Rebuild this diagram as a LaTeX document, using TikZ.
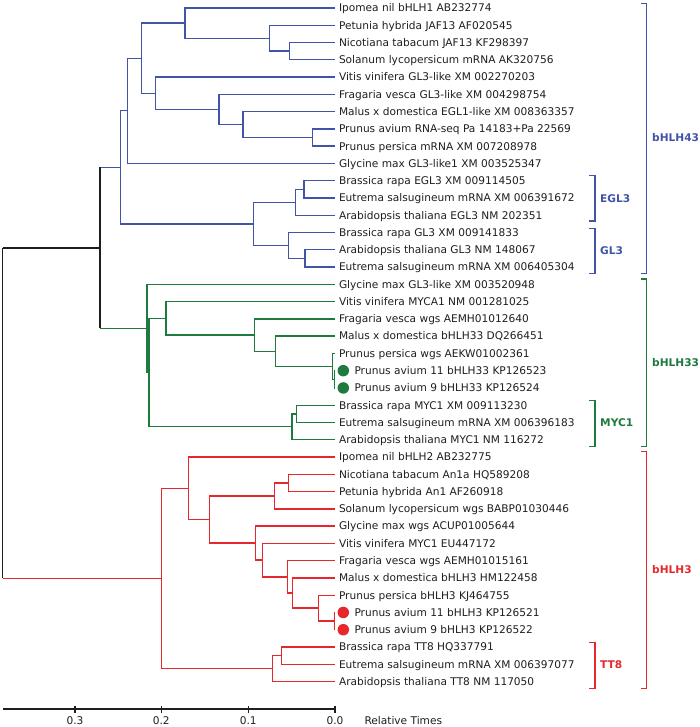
\documentclass[tikz,border=0pt]{standalone}
\usepackage{fontspec}
\setmainfont{DejaVu Sans}
\usetikzlibrary{calc}
\definecolor{cblue}{RGB}{66,84,168}
\definecolor{cgreen}{RGB}{30,122,62}
\definecolor{cred}{RGB}{230,40,45}
\definecolor{cblack}{RGB}{30,30,30}
\newcommand\inode[4]{\path let \p1=($(#3)!.5!(#4)$) in (#2pt,\y1) coordinate (#1);}
\newcommand\clade[4]{\draw[edge,#1] (#3) -| (#2) |- (#4);}
\begin{document}
\begin{tikzpicture}[x=1pt,y=-1pt,
  font=\fontsize{10.6}{12}\selectfont,
  edge/.style={line width=1.35pt},
  lbl/.style={anchor=west,inner sep=0pt,text height=7.7pt,text depth=0pt,text=cblack},
  grp/.style={anchor=west,inner sep=0pt,text height=7.7pt,text depth=0pt,font=\fontsize{10.6}{12}\selectfont\bfseries},
  dot/.style={circle,inner sep=0pt,minimum size=11.5pt,draw=none}]
\useasboundingbox (0,0) rectangle (700,727);
% leaves
\foreach \i in {0,...,39}{\coordinate (l\i) at (335,{8+17.27*\i});}
\foreach \i/\t in {0/Ipomea nil bHLH1 AB232774,1/Petunia hybrida JAF13 AF020545,2/Nicotiana tabacum JAF13 KF298397,3/Solanum lycopersicum mRNA AK320756,4/Vitis vinifera GL3-like XM 002270203,5/Fragaria vesca GL3-like XM 004298754,6/Malus x domestica EGL1-like XM 008363357,7/Prunus avium RNA-seq Pa 14183+Pa 22569,8/Prunus persica mRNA XM 007208978,9/Glycine max GL3-like1 XM 003525347,10/Brassica rapa EGL3 XM 009114505,11/Eutrema salsugineum mRNA XM 006391672,12/Arabidopsis thaliana EGL3 NM 202351,13/Brassica rapa GL3 XM 009141833,14/Arabidopsis thaliana GL3 NM 148067,15/Eutrema salsugineum mRNA XM 006405304,16/Glycine max GL3-like XM 003520948,17/Vitis vinifera MYCA1 NM 001281025,18/Fragaria vesca wgs AEMH01012640,19/Malus x domestica bHLH33 DQ266451,20/Prunus persica wgs AEKW01002361,23/Brassica rapa MYC1 XM 009113230,24/Eutrema salsugineum mRNA XM 006396183,25/Arabidopsis thaliana MYC1 NM 116272,26/Ipomea nil bHLH2 AB232775,27/Nicotiana tabacum An1a HQ589208,28/Petunia hybrida An1 AF260918,29/Solanum lycopersicum wgs BABP01030446,30/Glycine max wgs ACUP01005644,31/Vitis vinifera MYC1 EU447172,32/Fragaria vesca wgs AEMH01015161,33/Malus x domestica bHLH3 HM122458,34/Prunus persica bHLH3 KJ464755,37/Brassica rapa TT8 HQ337791,38/Eutrema salsugineum mRNA XM 006397077,39/Arabidopsis thaliana TT8 NM 117050}
  {\node[lbl] (t\i) at ($(l\i)+(3.8,0)$) {\t};}
\foreach \i/\t/\c in {21/Prunus avium 11 bHLH33 KP126523/cgreen,22/Prunus avium 9 bHLH33 KP126524/cgreen,35/Prunus avium 11 bHLH3 KP126521/cred,36/Prunus avium 9 bHLH3 KP126522/cred}
  {\node[dot,fill=\c] (d\i) at ($(l\i)+(8.3,0)$) {};
   \node[lbl] (t\i) at ($(l\i)+(19.3,0)$) {\t};}
% bHLH43 internal nodes
\inode{a1}{289.7}{l2}{l3}
\inode{a2}{269.3}{l1}{a1}
\inode{a3}{185}{l0}{a2}
\inode{a4}{312.7}{l7}{l8}
\inode{a5}{243}{l6}{a4}
\inode{a6}{219}{l5}{a5}
\inode{a7}{155.7}{l4}{a6}
\inode{a8}{141.7}{a3}{a7}
\inode{a9}{127.7}{a8}{l9}
\inode{a10}{304}{l10}{l11}
\inode{a11}{295.3}{a10}{l12}
\inode{a12}{305}{l14}{l15}
\inode{a13}{288.7}{l13}{a12}
\inode{a14}{253.3}{a11}{a13}
\inode{a15}{120.7}{a9}{a14}
% bHLH33
\inode{b1}{334.3}{l21}{l22}
\inode{b2}{332.3}{l20}{b1}
\inode{b3}{275.3}{l19}{b2}
\inode{b4}{254.7}{l18}{b3}
\inode{b5}{166}{l17}{b4}
\inode{b6}{296.7}{l23}{l24}
\inode{b7}{292}{b6}{l25}
\inode{b8}{149}{b5}{b7}
\inode{b9}{147}{l16}{b8}
\inode{t1}{100}{a15}{b9}
% bHLH3
\inode{c1}{288.7}{l27}{l28}
\inode{c2}{274.7}{c1}{l29}
\inode{c3}{334.3}{l35}{l36}
\inode{c4}{318.3}{l34}{c3}
\inode{c5}{292.3}{l33}{c4}
\inode{c6}{287.3}{l32}{c5}
\inode{c7}{262.7}{l31}{c6}
\inode{c8}{255.7}{l30}{c7}
\inode{c9}{209.3}{c2}{c8}
\inode{c10}{188.7}{l26}{c9}
\inode{c11}{281.7}{l37}{l38}
\inode{c12}{272.7}{c11}{l39}
\inode{c13}{161.3}{c10}{c12}
\inode{r}{2.7}{t1}{c13}
% edges bHLH43
\clade{cblue}{a1}{l2}{l3}
\clade{cblue}{a2}{l1}{a1}
\clade{cblue}{a3}{l0}{a2}
\clade{cblue}{a4}{l7}{l8}
\clade{cblue}{a5}{l6}{a4}
\clade{cblue}{a6}{l5}{a5}
\clade{cblue}{a7}{l4}{a6}
\clade{cblue}{a8}{a3}{a7}
\clade{cblue}{a9}{a8}{l9}
\clade{cblue}{a10}{l10}{l11}
\clade{cblue}{a11}{a10}{l12}
\clade{cblue}{a12}{l14}{l15}
\clade{cblue}{a13}{l13}{a12}
\clade{cblue}{a14}{a11}{a13}
\clade{cblue}{a15}{a9}{a14}
% edges bHLH33
\clade{cgreen}{b1}{l21}{l22}
\clade{cgreen}{b2}{l20}{b1}
\clade{cgreen}{b3}{l19}{b2}
\clade{cgreen}{b4}{l18}{b3}
\clade{cgreen}{b5}{l17}{b4}
\clade{cgreen}{b6}{l23}{l24}
\clade{cgreen}{b7}{b6}{l25}
\clade{cgreen}{b8}{b5}{b7}
\clade{cgreen}{b9}{l16}{b8}
% edges bHLH3
\clade{cred}{c1}{l27}{l28}
\clade{cred}{c2}{c1}{l29}
\clade{cred}{c3}{l35}{l36}
\clade{cred}{c4}{l34}{c3}
\clade{cred}{c5}{l33}{c4}
\clade{cred}{c6}{l32}{c5}
\clade{cred}{c7}{l31}{c6}
\clade{cred}{c8}{l30}{c7}
\clade{cred}{c9}{c2}{c8}
\clade{cred}{c10}{l26}{c9}
\clade{cred}{c11}{l37}{l38}
\clade{cred}{c12}{c11}{l39}
\clade{cred}{c13}{c10}{c12}
% top connections
\draw[edge,cblue] (t1 |- a15) -- (a15);
\draw[edge,cgreen] (t1 |- b9) -- (b9);
\draw[edge,cblack] (t1 |- a15) -- (t1 |- b9);
\draw[edge,cred] (r |- c13) -- (c13);
\draw[edge,cblack] (r |- t1) -- (t1);
\draw[edge,cblack] (r |- t1) -- (r |- c13);
% brackets
\draw[edge,cblue] (640.7,3.3) -- (646.7,3.3) -- (646.7,273.3) -- (640.7,273.3);
\node[grp,text=cblue] (gA) at (652,137.8) {bHLH43};
\draw[edge,cblue] (589.3,175.7) -- (595,175.7) -- (595,221) -- (589.3,221);
\node[grp,text=cblue] (gB) at (600,198.3) {EGL3};
\draw[edge,cblue] (589.3,228.3) -- (595,228.3) -- (595,273.3) -- (589.3,273.3);
\node[grp,text=cblue] (gC) at (600,250.7) {GL3};
\draw[edge,cgreen] (640.7,279) -- (646.7,279) -- (646.7,446.7) -- (640.7,446.7);
\node[grp,text=cgreen] (gD) at (652,362.7) {bHLH33};
\draw[edge,cgreen] (589.3,400.7) -- (595,400.7) -- (595,446.7) -- (589.3,446.7);
\node[grp,text=cgreen] (gE) at (600,422.7) {MYC1};
\draw[edge,cred] (640.7,451.7) -- (646.7,451.7) -- (646.7,688.3) -- (640.7,688.3);
\node[grp,text=cred] (gF) at (652,570) {bHLH3};
\draw[edge,cred] (589.3,642.7) -- (595,642.7) -- (595,688.3) -- (589.3,688.3);
\node[grp,text=cred] (gG) at (600,665) {TT8};
% axis
\coordinate (ax0) at (2.7,709);
\coordinate (ax1) at (335,709);
\draw[edge,cblack] (ax0) -- (ax1);
\foreach \k/\v/\x in {1/0.3/75,2/0.2/161.3,3/0.1/248.3,4/0.0/335}{
  \draw[edge,cblack] (\x,706) -- (\x,713);
  \node[inner sep=0pt,text height=7.7pt,text depth=0pt,text=cblack] (tk\k) at (\x,721) {\v};}
\node[lbl] (axl) at (364.3,721) {Relative Times};
\end{tikzpicture}
\end{document}
